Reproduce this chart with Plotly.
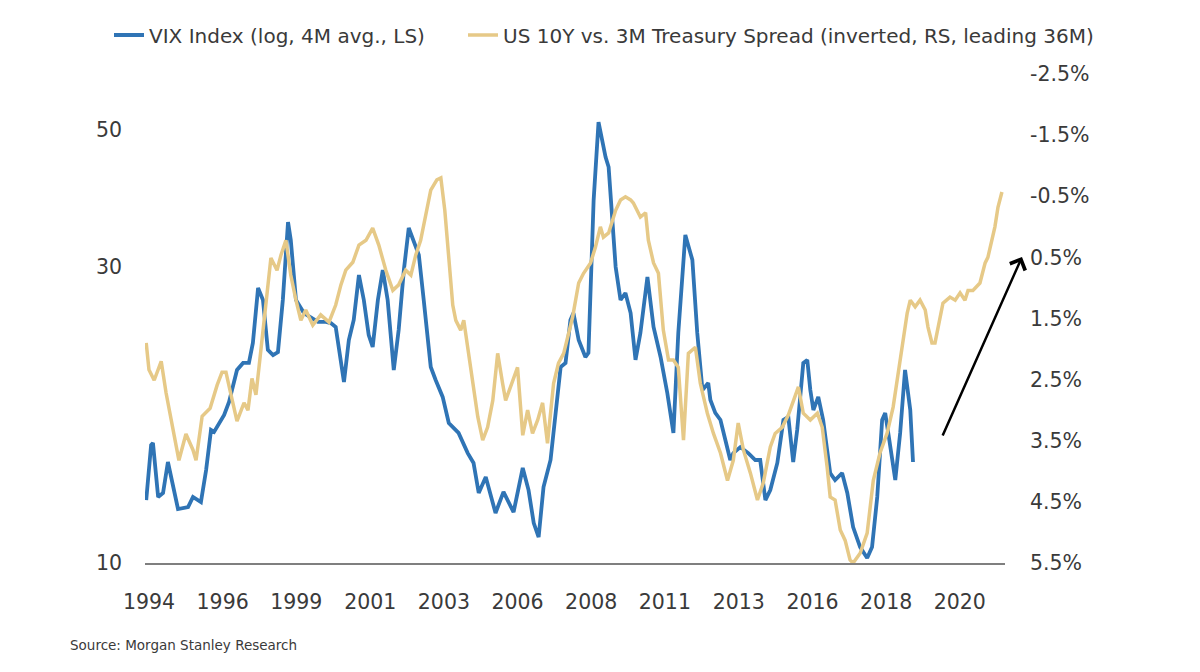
import plotly.graph_objects as go

# ---- data ----
vix_years = [1994.20, 1994.36, 1994.42, 1994.59, 1994.75, 1994.91, 1995.24, 1995.57, 1995.73, 1995.99,
             1996.16, 1996.32, 1996.42, 1996.75, 1996.91, 1997.17, 1997.37, 1997.56, 1997.69, 1997.86,
             1998.02, 1998.18, 1998.35, 1998.51, 1998.67, 1998.84, 1998.93, 1999.10, 1999.36, 1999.59,
             1999.82, 2000.08, 2000.24, 2000.40, 2000.57, 2000.67, 2000.83, 2000.99, 2001.16, 2001.32,
             2001.48, 2001.61, 2001.78, 2001.94, 2002.10, 2002.30, 2002.46, 2002.63, 2002.79, 2002.95,
             2003.12, 2003.28, 2003.51, 2003.67, 2003.90, 2004.10, 2004.42, 2004.72, 2004.91, 2005.08,
             2005.31, 2005.63, 2005.89, 2006.22, 2006.52, 2006.71, 2006.88, 2007.04, 2007.20, 2007.43,
             2007.59, 2007.76, 2007.92, 2008.08, 2008.18, 2008.35, 2008.57, 2008.67, 2008.84, 2009.00,
             2009.23, 2009.33, 2009.56, 2009.72, 2009.88, 2010.05, 2010.21, 2010.37, 2010.60, 2010.80,
             2011.03, 2011.25, 2011.45, 2011.61, 2011.84, 2012.07, 2012.23, 2012.40, 2012.59, 2012.66,
             2012.82, 2012.99, 2013.15, 2013.31, 2013.41, 2013.64, 2013.90, 2014.13, 2014.29, 2014.46,
             2014.62, 2014.85, 2015.05, 2015.21, 2015.37, 2015.50, 2015.60, 2015.70, 2015.83, 2015.93,
             2016.03, 2016.19, 2016.35, 2016.58, 2016.74, 2016.97, 2017.14, 2017.33, 2017.56, 2017.79,
             2017.95, 2018.12, 2018.28, 2018.38, 2018.48, 2018.71, 2018.87, 2019.03, 2019.20, 2019.29]
vix_values = [12.63, 15.50, 15.62, 12.78, 12.97, 14.55, 12.22, 12.31, 12.78, 12.54,
              14.12, 16.39, 16.27, 17.33, 18.19, 20.48, 21.02, 21.02, 22.64, 27.77,
              26.56, 22.06, 21.65, 21.89, 26.56, 35.48, 33.19, 26.56, 25.30, 24.84,
              24.48, 24.48, 24.38, 24.02, 21.26, 19.58, 22.89, 24.66, 29.14, 26.56,
              23.32, 22.31, 26.56, 29.69, 26.56, 20.48, 23.76, 29.69, 34.70, 33.19,
              31.40, 26.56, 20.71, 19.73, 18.53, 16.82, 16.21, 15.04, 14.50, 12.97,
              13.76, 12.04, 13.02, 12.08, 14.23, 13.11, 11.60, 11.01, 13.26, 14.66,
              17.20, 20.71, 21.02, 24.66, 25.30, 22.89, 21.49, 21.82, 38.50, 51.43,
              45.16, 43.52, 30.02, 26.56, 27.26, 25.30, 21.26, 23.50, 28.93, 24.02,
              21.49, 18.80, 16.21, 23.50, 33.81, 30.82, 23.50, 19.01, 19.51, 18.32,
              17.46, 17.01, 15.79, 14.66, 15.04, 15.38, 15.04, 14.66, 14.66, 12.63,
              13.11, 14.50, 17.01, 17.20, 14.55, 16.39, 18.53, 21.02, 21.26, 19.01,
              17.65, 18.53, 17.01, 13.97, 13.61, 13.97, 12.97, 11.43, 10.61, 10.19,
              10.61, 12.78, 17.01, 17.46, 16.21, 13.61, 16.21, 20.48, 17.65, 14.55]

spread_years = [1994.20, 1994.29, 1994.46, 1994.69, 1994.85, 1994.98, 1995.11, 1995.27, 1995.50, 1995.73,
                1995.83, 1996.03, 1996.29, 1996.52, 1996.68, 1996.81, 1996.94, 1997.17, 1997.40, 1997.53,
                1997.66, 1997.79, 1997.89, 1998.02, 1998.12, 1998.28, 1998.48, 1998.61, 1998.77, 1998.93,
                1999.10, 1999.26, 1999.42, 1999.65, 1999.91, 2000.18, 2000.40, 2000.57, 2000.73, 2000.96,
                2001.16, 2001.39, 2001.61, 2001.81, 2002.04, 2002.27, 2002.46, 2002.69, 2002.86, 2003.02,
                2003.18, 2003.35, 2003.51, 2003.71, 2003.84, 2003.97, 2004.10, 2004.23, 2004.33, 2004.49,
                2004.59, 2004.82, 2005.05, 2005.21, 2005.37, 2005.54, 2005.70, 2005.86, 2005.96, 2006.12,
                2006.35, 2006.52, 2006.68, 2006.84, 2007.01, 2007.17, 2007.33, 2007.53, 2007.69, 2007.86,
                2008.02, 2008.15, 2008.35, 2008.51, 2008.74, 2008.90, 2009.06, 2009.16, 2009.33, 2009.56,
                2009.72, 2009.88, 2010.05, 2010.14, 2010.37, 2010.54, 2010.63, 2010.80, 2010.96, 2011.12,
                2011.29, 2011.45, 2011.61, 2011.78, 2011.94, 2012.17, 2012.33, 2012.56, 2012.76, 2012.99,
                2013.22, 2013.41, 2013.57, 2013.74, 2013.97, 2014.20, 2014.39, 2014.62, 2014.78, 2015.01,
                2015.21, 2015.37, 2015.54, 2015.70, 2015.93, 2016.16, 2016.32, 2016.48, 2016.58, 2016.74,
                2016.91, 2017.07, 2017.23, 2017.33, 2017.56, 2017.79, 2017.99, 2018.21, 2018.44, 2018.64,
                2018.80, 2018.97, 2019.10, 2019.20, 2019.36, 2019.52, 2019.69, 2019.78, 2019.91, 2020.01,
                2020.11, 2020.27, 2020.50, 2020.67, 2020.83, 2020.99, 2021.09, 2021.25, 2021.48, 2021.65,
                2021.74, 2021.88, 2021.97, 2022.07, 2022.20]
spread_values = [1.90, 2.34, 2.51, 2.20, 2.72, 3.08, 3.38, 3.82, 3.39, 3.65,
                 3.82, 3.10, 2.97, 2.59, 2.38, 2.38, 2.67, 3.18, 2.88, 3.00,
                 2.48, 2.75, 2.30, 1.74, 1.20, 0.51, 0.71, 0.46, 0.22, 0.79,
                 1.20, 1.53, 1.36, 1.61, 1.44, 1.56, 1.28, 0.95, 0.71, 0.58,
                 0.30, 0.22, 0.02, 0.30, 0.71, 1.04, 0.95, 0.71, 0.79, 0.46,
                 0.22, -0.19, -0.60, -0.77, -0.80, -0.27, 0.54, 1.28, 1.53, 1.69,
                 1.53, 2.30, 3.11, 3.49, 3.28, 2.84, 2.07, 2.56, 2.84, 2.62,
                 2.30, 3.41, 3.00, 3.38, 3.16, 2.88, 3.54, 2.56, 2.23, 2.07,
                 1.74, 1.48, 0.92, 0.76, 0.59, 0.33, 0.00, 0.17, 0.10, -0.27,
                 -0.44, -0.49, -0.44, -0.39, -0.16, -0.23, 0.22, 0.59, 0.76, 1.69,
                 2.18, 2.18, 2.30, 3.49, 2.07, 1.97, 2.56, 3.05, 3.38, 3.70,
                 4.15, 3.82, 3.21, 3.65, 4.03, 4.47, 4.19, 3.60, 3.38, 3.28,
                 3.08, 2.84, 2.62, 3.05, 3.16, 3.05, 3.28, 3.93, 4.42, 4.47,
                 4.96, 5.13, 5.45, 5.50, 5.34, 5.01, 4.15, 3.70, 3.38, 2.95,
                 2.39, 1.85, 1.41, 1.20, 1.31, 1.20, 1.36, 1.64, 1.90, 1.90,
                 1.64, 1.25, 1.15, 1.20, 1.08, 1.20, 1.04, 1.04, 0.92, 0.59,
                 0.50, 0.17, 0.00, -0.32, -0.57]

x_tick_pos = [1994.29, 1996.70, 1999.11, 2001.53, 2003.94, 2006.35,
              2008.76, 2011.17, 2013.59, 2016.00, 2018.41, 2020.82]
x_tick_labels = ["1994", "1996", "1999", "2001", "2003", "2006",
                 "2008", "2011", "2013", "2016", "2018", "2020"]
vix_ticks = [10, 30, 50]
vix_tick_labels = ["10", "30", "50"]
spread_ticks = [-2.5, -1.5, -0.5, 0.5, 1.5, 2.5, 3.5, 4.5, 5.5]
spread_tick_labels = ["-2.5%", "-1.5%", "-0.5%", "0.5%", "1.5%", "2.5%", "3.5%", "4.5%", "5.5%"]

vix_name = "VIX Index (log, 4M avg., LS)"
spread_name = "US 10Y vs. 3M Treasury Spread (inverted, RS, leading 36M)"
source_text = "Source: Morgan Stanley Research"

BLUE = "#2F74B5"
GOLD = "#E6C987"
TEXT = "#3a3a3a"
FONT = "DejaVu Sans"

fig = go.Figure()
fig.add_trace(go.Scatter(x=vix_years, y=vix_values, name=vix_name, mode="lines",
                         line=dict(color=BLUE, width=3.8), yaxis="y", legend="legend"))
fig.add_trace(go.Scatter(x=spread_years, y=spread_values, name=spread_name, mode="lines",
                         line=dict(color=GOLD, width=3.5), yaxis="y2", legend="legend2"))

legend_common = dict(orientation="h", xref="container", yref="container",
                     xanchor="left", yanchor="middle",
                     font=dict(family=FONT, size=20, color=TEXT), bgcolor="rgba(0,0,0,0)")

fig.update_layout(
    width=1200, height=672,
    margin=dict(l=145, r=195, t=74, b=109, autoexpand=False),
    paper_bgcolor="white", plot_bgcolor="white",
    font=dict(family=FONT, color=TEXT),
    showlegend=True,
    legend=dict(x=109 / 1200, y=1 - 35 / 672, **legend_common),
    legend2=dict(x=463 / 1200, y=1 - 35 / 672, **legend_common),
    xaxis=dict(range=[1994.16, 2022.30], tickmode="array", tickvals=x_tick_pos, ticktext=x_tick_labels,
               showgrid=False, zeroline=False, showline=True, linecolor="#7f7f7f", linewidth=1.5,
               ticks="", ticklabelstandoff=20, tickfont=dict(family=FONT, size=20.5, color=TEXT)),
    yaxis=dict(type="log", range=[1, 1.7887], tickmode="array", tickvals=vix_ticks, ticktext=vix_tick_labels,
               showgrid=False, zeroline=False, showline=False, ticks="", ticklabelstandoff=22,
               tickfont=dict(family=FONT, size=20.5, color=TEXT)),
    yaxis2=dict(range=[5.5, -2.5], overlaying="y", side="right", tickmode="array",
                tickvals=spread_ticks, ticktext=spread_tick_labels,
                showgrid=False, zeroline=False, showline=False, ticks="", ticklabelstandoff=24,
                tickfont=dict(family=FONT, size=20.5, color=TEXT)),
)

fig.add_annotation(text=source_text, xref="paper", yref="paper",
                   x=(68 - 145) / 860, y=(563 - 645) / 489, xanchor="left", yanchor="middle",
                   showarrow=False, font=dict(family=FONT, size=13.5, color=TEXT))

fig.add_annotation(text="", xref="paper", yref="paper",
                   x=(1022 - 145) / 860, y=(563 - 257) / 489, ax=-80, ay=180,
                   showarrow=True, arrowhead=4, arrowsize=1.3, arrowwidth=2.5, arrowcolor="black")

fig.write_html("out.html")
